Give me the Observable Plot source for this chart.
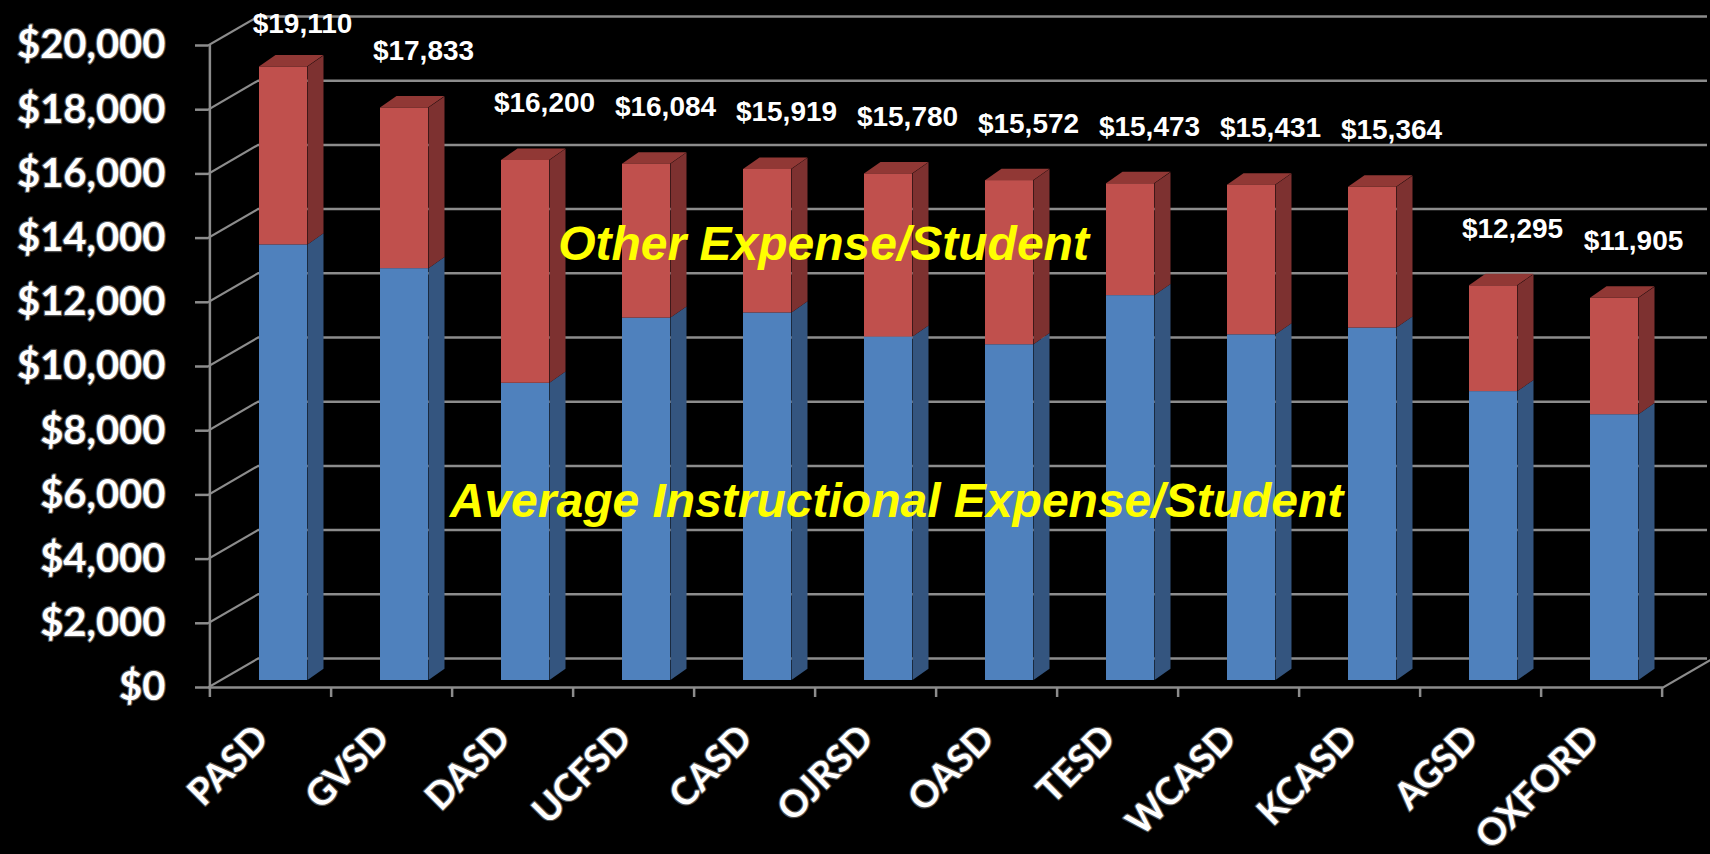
<!DOCTYPE html>
<html>
<head>
<meta charset="utf-8">
<script src="https://cdn.jsdelivr.net/npm/d3@7"></script>
<script src="https://cdn.jsdelivr.net/npm/@observablehq/plot@0.6"></script>
<style>
  html, body { margin: 0; padding: 0; background: #000; }
  #chart svg { display: block; }
</style>
</head>
<body>
<div id="chart"></div>
<script>
// ---- data ----
const districts = ["PASD", "GVSD", "DASD", "UCFSD", "CASD", "OJRSD", "OASD", "TESD", "WCASD", "KCASD", "AGSD", "OXFORD"];
const totalExpense = [19110, 17833, 16200, 16084, 15919, 15780, 15572, 15473, 15431, 15364, 12295, 11905];
const instructionalExpense = [13570, 12830, 9260, 11290, 11450, 10700, 10460, 11990, 10770, 10980, 9000, 8280];
const yTicks = [0, 2000, 4000, 6000, 8000, 10000, 12000, 14000, 16000, 18000, 20000];
const seriesLabels = ["Other Expense/Student", "Average Instructional Expense/Student"];

const data = districts.map((d, i) => ({
  district: d,
  total: totalExpense[i],
  instr: instructionalExpense[i],
  other: totalExpense[i] - instructionalExpense[i]
}));

// ---- layout / style ----
const W = 1710, H = 854, ML = 208, MR = 47, MT = 45, MB = 167;
const frameW = W - ML - MR, frameH = H - MT - MB;
const step = frameW / districts.length;
const BW = step * 0.4;               // bar front width
const DX = 16.5, DY = 11.5;          // bar side/top depth in px
const BX = 13, BY = -7;              // bar placement inside the floor depth
const WX = 50, WY = -29;             // back wall offset
const GRID = "#8c8c8c";
const BLUE = "#4f81bd", BLUE_SIDE = "#34557f";
const RED = "#c0504d", RED_SIDE = "#7d3130", RED_TOP = "#913835";
const fmt = d => "$" + d3.format(",")(d);

const plot = Plot.plot({
  width: W, height: H,
  marginLeft: ML, marginRight: MR, marginTop: MT, marginBottom: MB,
  style: { background: "#000", overflow: "visible" },
  x: { domain: districts, paddingInner: 0.6, paddingOuter: 0.3, axis: null },
  y: { domain: [0, 20000], axis: null },
  marks: [
    // back wall gridlines
    Plot.ruleY(yTicks, { y: d => d, dx: WX, dy: WY, insetRight: 6, stroke: GRID, strokeWidth: 2.5 }),
    // side wall connectors (skewed later)
    Plot.ruleY(yTicks, { y: d => d, insetRight: frameW - WX, stroke: GRID, strokeWidth: 2.5, ariaDescription: "wall" }),
    // right floor edge (skewed later)
    Plot.ruleY([0], { y: d => d, insetLeft: frameW - WX, dx: WX, stroke: GRID, strokeWidth: 2.5, ariaDescription: "wall" }),
    // front floor edge
    Plot.ruleY([0], { y: d => d, stroke: GRID, strokeWidth: 2.5 }),
    // category ticks
    Plot.ruleX(districts, { x: d => d, dx: step / 2, insetTop: frameH, insetBottom: -10, stroke: GRID, strokeWidth: 2.5 }),
    // front y axis line
    Plot.ruleX([districts[0]], { x: d => d, dx: -step / 2, insetBottom: -10, stroke: GRID, strokeWidth: 2.5 }),
    // y ticks
    Plot.ruleY(yTicks, { y: d => d, dx: -13, insetRight: frameW - 13, stroke: GRID, strokeWidth: 2.5 }),

    // bar side faces (skewed later)
    Plot.barY(data, { x: "district", y1: 0, y2: "instr", fill: BLUE_SIDE, dx: BX + BW, dy: BY, insetRight: BW - DX, ariaDescription: "side" }),
    Plot.barY(data, { x: "district", y1: "instr", y2: "total", fill: RED_SIDE, dx: BX + BW, dy: BY, insetRight: BW - DX, ariaDescription: "side" }),
    // bar top caps (skewed later)
    Plot.barY(data, { x: "district", y1: "total", y2: "total", insetTop: -DY, fill: RED_TOP, dx: BX, dy: BY, ariaDescription: "top" }),
    // bar fronts
    Plot.barY(data, { x: "district", y1: 0, y2: "instr", fill: BLUE, dx: BX, dy: BY }),
    Plot.barY(data, { x: "district", y1: "instr", y2: "total", fill: RED, dx: BX, dy: BY }),

    // total labels
    Plot.text(data, {
      x: "district", y: d => Math.min(d.total, 18690), text: d => fmt(d.total),
      dx: 32, dy: -64, fill: "#fff", fontSize: 28, fontWeight: "bold",
      fontFamily: "'Liberation Sans', Arial, sans-serif"
    }),

    // series annotations
    Plot.text([seriesLabels[0]], {
      x: () => "CASD", y: () => 13800, dx: 69, text: d => d,
      fill: "#ffff00", fontSize: 48, fontWeight: "bold", fontStyle: "italic",
      fontFamily: "'Liberation Sans', Arial, sans-serif"
    }),
    Plot.text([seriesLabels[1]], {
      x: () => "OJRSD", y: () => 5800, dx: 21, text: d => d,
      fill: "#ffff00", fontSize: 48, fontWeight: "bold", fontStyle: "italic",
      fontFamily: "'Liberation Sans', Arial, sans-serif"
    }),

    // y tick labels
    Plot.text(yTicks, {
      y: d => d, frameAnchor: "left", dx: -43, textAnchor: "end", text: d => fmt(d),
      fill: "#fff", fontSize: 40, fontWeight: "bold", fontFamily: "Lato, 'Open Sans', sans-serif",
      stroke: "#777", strokeWidth: 2.5, strokeOpacity: 0.7, paintOrder: "stroke"
    }),
    // x tick labels
    Plot.text(districts, {
      x: d => d, frameAnchor: "bottom", dy: 53, rotate: -45, textAnchor: "end", text: d => d,
      fill: "#fff", fontSize: 37, fontWeight: "bold", fontFamily: "Lato, 'Open Sans', sans-serif",
      stroke: "#777", strokeWidth: 2.5, strokeOpacity: 0.7, paintOrder: "stroke"
    })
  ]
});

// 3D skews (derived from the positions Plot computed)
const kSide = -DY / DX;   // skewY factor for bar sides
const kTop = -DX / DY;    // skewX factor for bar tops
const kWall = WY / WX;    // skewY factor for wall connectors
d3.select(plot).selectAll('g[aria-description="side"] rect').each(function () {
  const x0 = +this.getAttribute("x");
  this.setAttribute("transform", `matrix(1,${kSide},0,1,0,${-kSide * x0})`);
});
d3.select(plot).selectAll('g[aria-description="top"] rect').each(function () {
  const y0 = +this.getAttribute("y") + +this.getAttribute("height");
  this.setAttribute("transform", `matrix(1,0,${kTop},1,${-kTop * y0},0)`);
});
d3.select(plot).selectAll('g[aria-description="wall"] line').each(function () {
  const x0 = +this.getAttribute("x1");
  this.setAttribute("transform", `matrix(1,${kWall},0,1,0,${-kWall * x0})`);
});

document.getElementById("chart").append(plot);
</script>
</body>
</html>
